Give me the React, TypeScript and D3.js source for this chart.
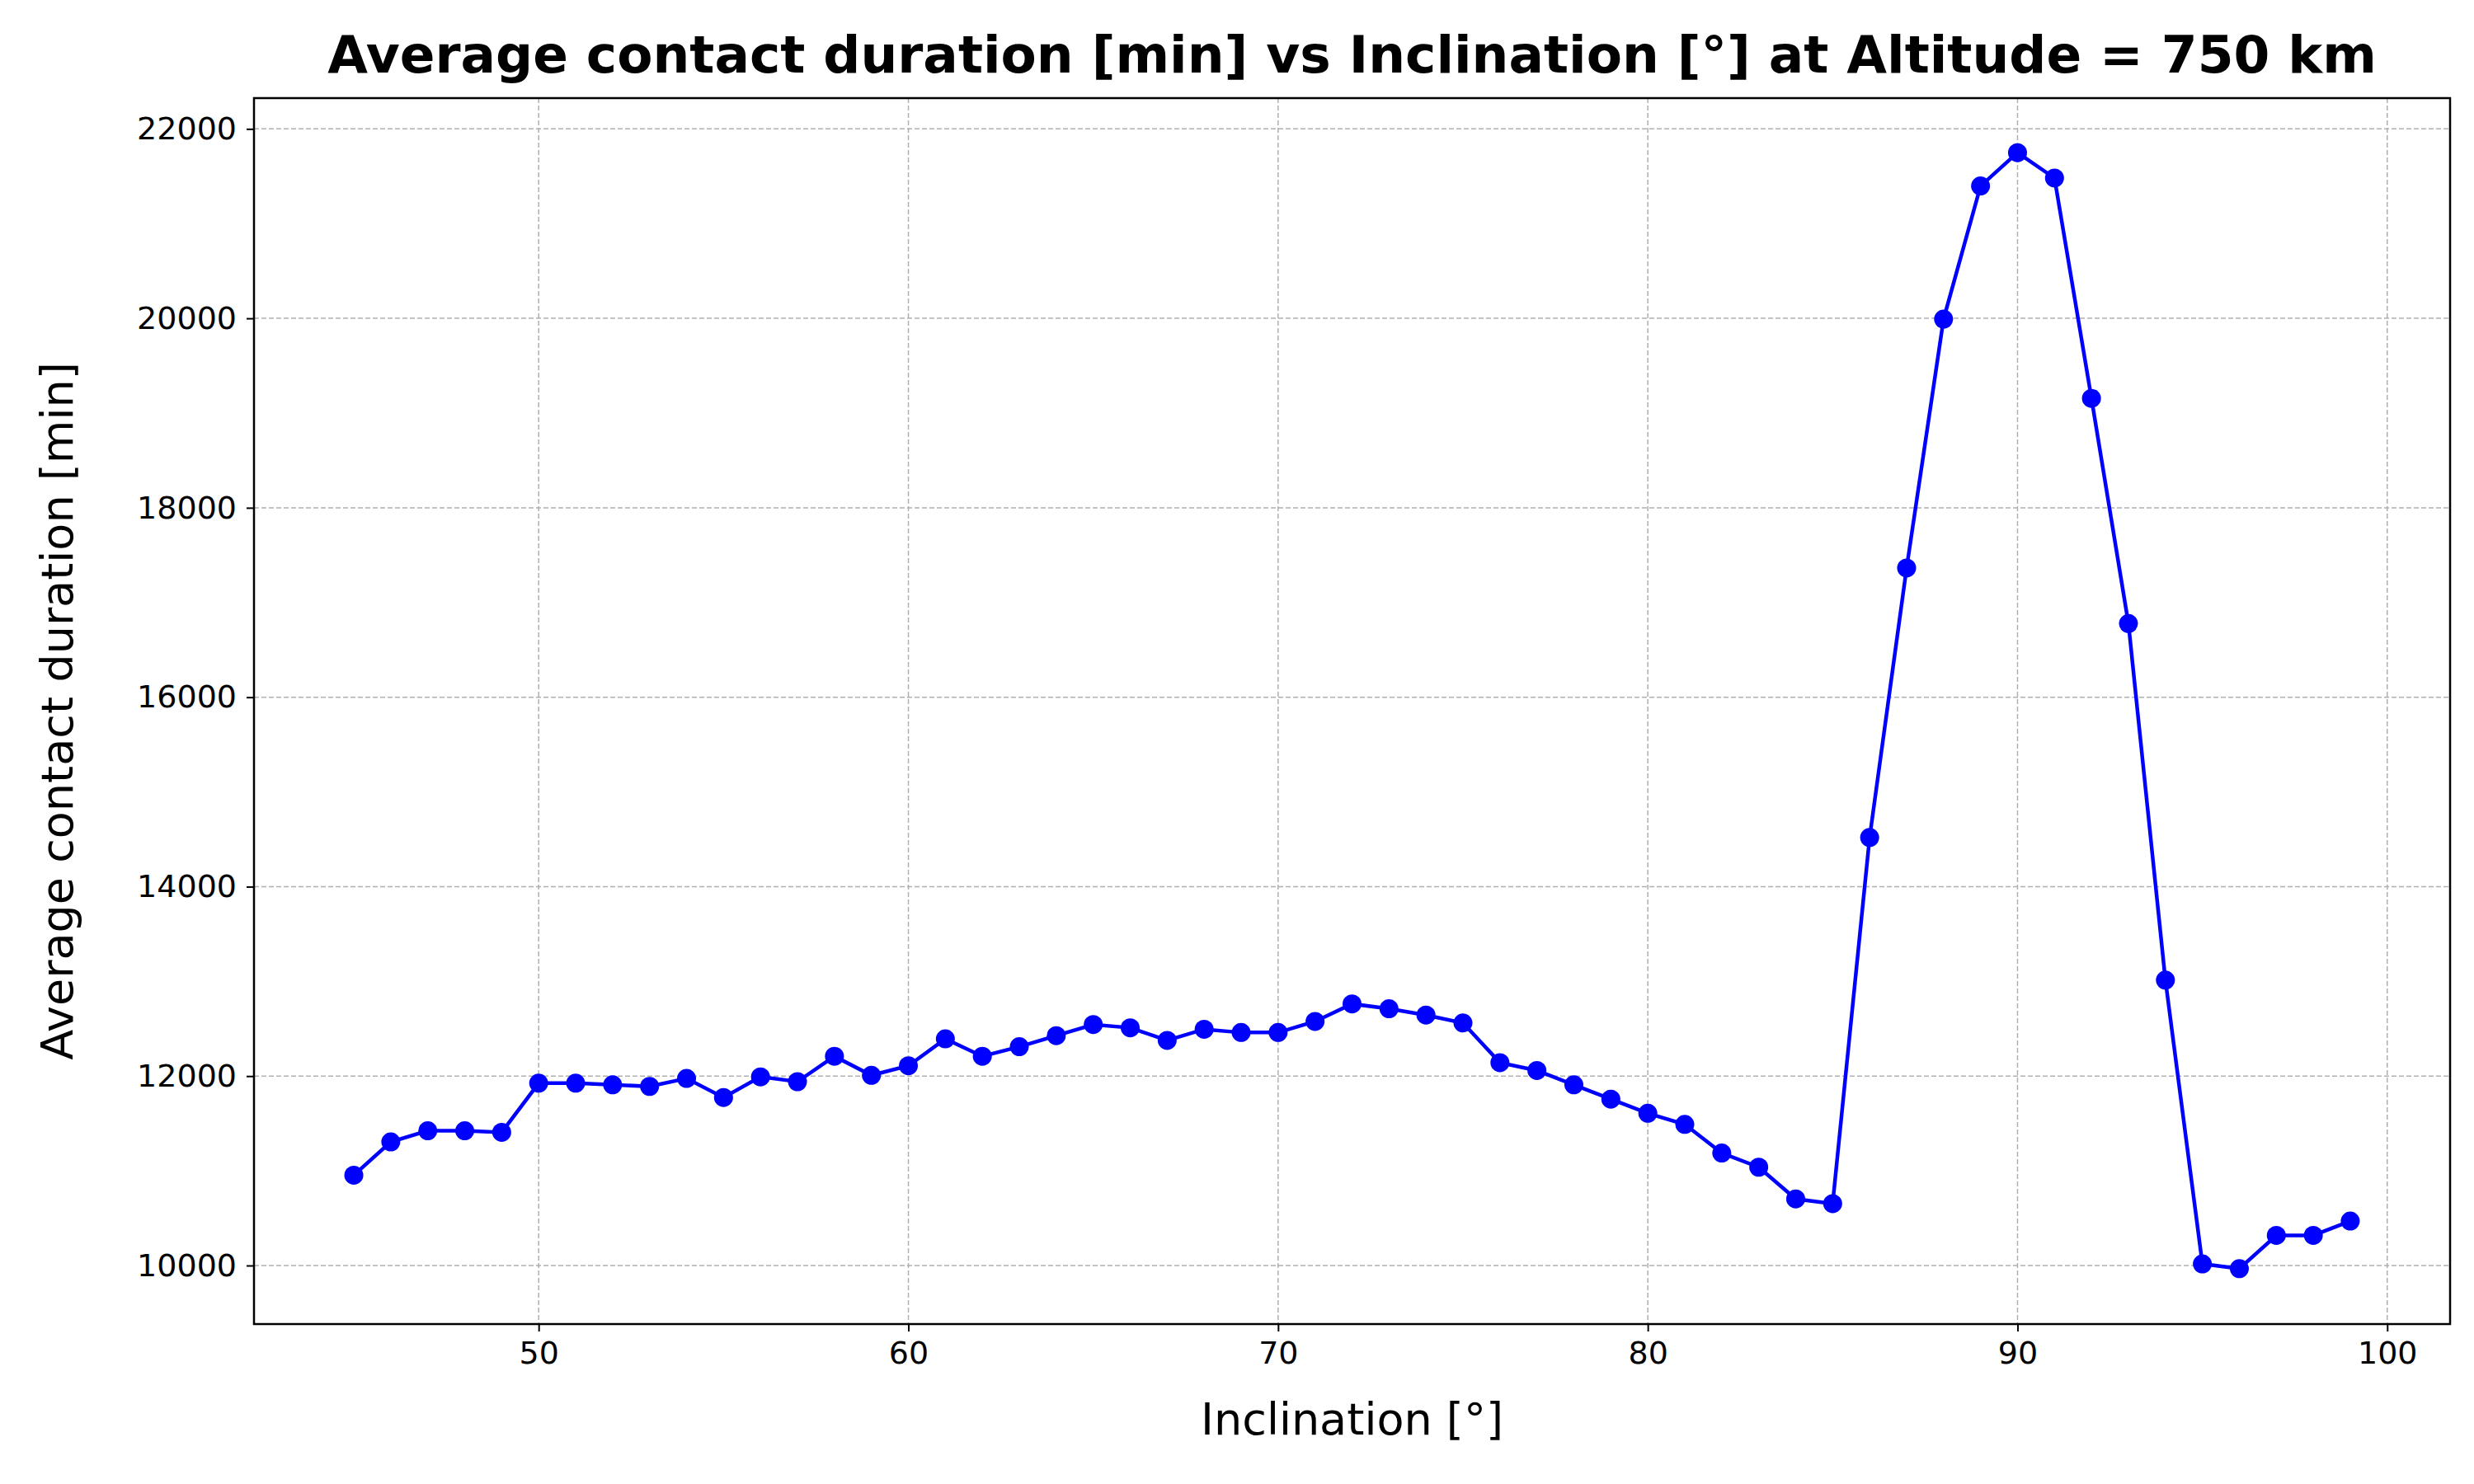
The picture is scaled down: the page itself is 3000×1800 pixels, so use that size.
import * as d3 from 'd3';
import { useEffect, useRef } from 'react';

const inclinations = d3.range(45, 100);
const durations = [
  10954, 11305, 11423, 11423, 11406, 11925, 11925, 11908, 11891, 11975,
  11774, 11992, 11941, 12209, 12008, 12109, 12393, 12209, 12310, 12427,
  12544, 12510, 12377, 12494, 12460, 12460, 12577, 12762, 12711, 12644,
  12561, 12142, 12059, 11908, 11757, 11607, 11490, 11188, 11038, 10703,
  10653, 14519, 17364, 19992, 21397, 21749, 21481, 19155, 16778, 13013,
  10017, 9967, 10318, 10318, 10469,
];
const xTicks = [50, 60, 70, 80, 90, 100];
const yTicks = [10000, 12000, 14000, 16000, 18000, 20000, 22000];

const W = 3000;
const H = 1800;

export default function App() {
  const svgRef = useRef<SVGSVGElement | null>(null);

  useEffect(() => {
    if (!svgRef.current) return;
    const svg = d3.select(svgRef.current);
    svg.selectAll('*').remove();

    const margin = { top: 119, right: 29, bottom: 194, left: 308 };
    const iw = W - margin.left - margin.right;
    const ih = H - margin.top - margin.bottom;
    const data = inclinations.map((inc, i) => ({ inc, v: durations[i] }));

    const x = d3.scaleLinear().domain([42.3, 101.7]).range([0, iw]);
    const y = d3.scaleLinear().domain([9382, 22325]).range([ih, 0]);

    const g = svg.append('g').attr('transform', `translate(${margin.left},${margin.top})`);

    // grid
    g.selectAll('.gx').data(xTicks).enter().append('line')
      .attr('x1', (d) => x(d)).attr('x2', (d) => x(d)).attr('y1', 0).attr('y2', ih)
      .attr('stroke', '#b0b0b0').attr('stroke-width', 1.5).attr('stroke-dasharray', '6,3');
    g.selectAll('.gy').data(yTicks).enter().append('line')
      .attr('y1', (d) => y(d)).attr('y2', (d) => y(d)).attr('x1', 0).attr('x2', iw)
      .attr('stroke', '#b0b0b0').attr('stroke-width', 1.5).attr('stroke-dasharray', '6,3');

    const xAxis = g.append('g').attr('transform', `translate(0,${ih})`)
      .call(d3.axisBottom(x).tickValues(xTicks).tickSize(9).tickPadding(12).tickFormat(d3.format('d')));
    const yAxis = g.append('g')
      .call(d3.axisLeft(y).tickValues(yTicks).tickSize(9).tickPadding(12).tickFormat(d3.format('d')));
    [xAxis, yAxis].forEach((a) => {
      a.select('.domain').remove();
      a.selectAll('line').attr('stroke', '#000').attr('stroke-width', 2);
      a.selectAll('text').attr('font-size', 38).attr('font-family', 'DejaVu Sans').attr('fill', '#000');
    });

    g.append('rect').attr('width', iw).attr('height', ih)
      .attr('fill', 'none').attr('stroke', '#000').attr('stroke-width', 2.5);

    const line = d3.line<{ inc: number; v: number }>().x((d) => x(d.inc)).y((d) => y(d.v));
    g.append('path').datum(data).attr('d', line)
      .attr('fill', 'none').attr('stroke', '#0000ff').attr('stroke-width', 4.5);
    g.selectAll('.pt').data(data).enter().append('circle')
      .attr('cx', (d) => x(d.inc)).attr('cy', (d) => y(d.v)).attr('r', 11.5).attr('fill', '#0000ff');

    svg.append('text').attr('x', margin.left + iw / 2).attr('y', 88)
      .attr('text-anchor', 'middle').attr('font-size', 63).attr('font-weight', 'bold')
      .attr('font-family', 'DejaVu Sans')
      .text('Average contact duration [min] vs Inclination [°] at Altitude = 750 km');
    svg.append('text').attr('x', margin.left + iw / 2).attr('y', 1740)
      .attr('text-anchor', 'middle').attr('font-size', 54).attr('font-family', 'DejaVu Sans')
      .text('Inclination [°]');
    svg.append('text')
      .attr('transform', `translate(88,${margin.top + ih / 2}) rotate(-90)`)
      .attr('text-anchor', 'middle').attr('font-size', 54).attr('font-family', 'DejaVu Sans')
      .text('Average contact duration [min]');
  }, []);

  return (
    <svg ref={svgRef} width={W} height={H}
      style={{ position: 'absolute', left: 0, top: 0, background: '#fff' }} />
  );
}
